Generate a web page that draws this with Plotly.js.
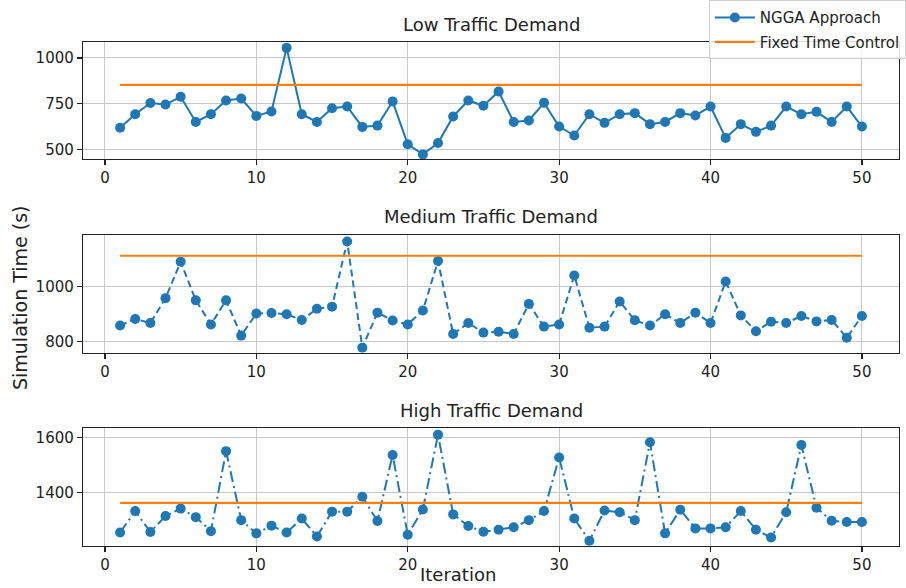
<!DOCTYPE html>
<html>
<head>
<meta charset="utf-8">
<script src="https://cdn.plot.ly/plotly-3.0.1.min.js"></script>
<style>html,body{margin:0;padding:0;background:#fff;}#chart{width:906px;height:588px;}</style>
</head>
<body>
<div id="chart"></div>
<script>
const iterations = Array.from({length: 50}, (_, i) => i + 1);

const lowNGGA = [619, 693, 754, 746, 788, 651, 693, 768, 779, 684,
                 708, 1055, 693, 651, 726, 735, 624, 631, 763, 529,
                 474, 536, 681, 768, 739, 817, 651, 659, 755, 626,
                 577, 693, 646, 693, 699, 639, 651, 699, 686, 735,
                 564, 639, 597, 631, 735, 693, 706, 651, 735, 626];

const mediumNGGA = [858, 882, 867, 958, 1091, 950, 862, 950, 821, 902,
                    904, 899, 878, 919, 927, 1165, 777, 905, 876, 862,
                    913, 1094, 827, 867, 832, 835, 827, 937, 854, 862,
                    1041, 850, 854, 946, 877, 858, 899, 867, 905, 867,
                    1019, 895, 837, 872, 867, 893, 873, 878, 813, 893];

const highNGGA = [1254, 1332, 1256, 1314, 1341, 1310, 1259, 1550, 1299, 1251,
                  1279, 1254, 1305, 1240, 1330, 1330, 1384, 1296, 1536, 1246,
                  1338, 1610, 1320, 1278, 1257, 1264, 1273, 1299, 1332, 1527,
                  1305, 1224, 1334, 1328, 1299, 1582, 1251, 1337, 1269, 1269,
                  1273, 1332, 1264, 1236, 1328, 1572, 1344, 1297, 1292, 1292];

const fixedLow = 853;
const fixedMedium = 1113;
const fixedHigh = 1362;

const panelTitles = ["Low Traffic Demand", "Medium Traffic Demand", "High Traffic Demand"];
const seriesNames = ["NGGA Approach", "Fixed Time Control"];
const xLabel = "Iteration";
const yLabel = "Simulation Time (s)";

const blue = '#1f77b4', orange = '#ff7f0e';
const FONT = 'DejaVu Sans, sans-serif';

function ngga(y, axis, dash, showlegend) {
  return {x: iterations, y: y, xaxis: 'x' + axis, yaxis: 'y' + axis,
    type: 'scatter', mode: 'lines+markers', name: seriesNames[0],
    legendgroup: 'ngga', showlegend: showlegend,
    line: {color: blue, width: 2, dash: dash},
    marker: {color: blue, size: 10}};
}
function fixed(v, axis, showlegend) {
  return {x: iterations, y: iterations.map(() => v), xaxis: 'x' + axis, yaxis: 'y' + axis,
    type: 'scatter', mode: 'lines', name: seriesNames[1],
    legendgroup: 'fixed', showlegend: showlegend,
    line: {color: orange, width: 2.2}};
}

const traces = [
  ngga(lowNGGA, '', 'solid', true), fixed(fixedLow, '', true),
  ngga(mediumNGGA, '2', '7px,4px', false), fixed(fixedMedium, '2', false),
  ngga(highNGGA, '3', '11px,4px,2px,4px', false), fixed(fixedHigh, '3', false)
];

function xax(anchor) {
  return {anchor: anchor, range: [-1.45, 52.45], tickvals: [0, 10, 20, 30, 40, 50],
    showgrid: true, gridcolor: '#c8c8c8', gridwidth: 1, zeroline: false,
    showline: true, linecolor: '#222', linewidth: 1.2, mirror: true,
    ticks: 'outside', ticklen: 5, tickcolor: '#222', tickwidth: 1.2,
    tickfont: {family: FONT, size: 15, color: '#222'}};
}
function yax(anchor, domain, range, dtick) {
  return {anchor: anchor, domain: domain, range: range, dtick: dtick,
    showgrid: true, gridcolor: '#c8c8c8', gridwidth: 1, zeroline: false,
    showline: true, linecolor: '#222', linewidth: 1.2, mirror: true,
    ticks: 'outside', ticklen: 5, tickcolor: '#222', tickwidth: 1.2,
    tickfont: {family: FONT, size: 15, color: '#222'}};
}

const layout = {
  width: 906, height: 588,
  margin: {l: 83, r: 7, t: 42, b: 42, autoexpand: false},
  paper_bgcolor: '#fff', plot_bgcolor: '#fff',
  font: {family: FONT, color: '#222'},
  showlegend: true,
  legend: {x: 0.767, y: 1.083, xanchor: 'left', yanchor: 'top', itemwidth: 40,
    bgcolor: 'rgba(255,255,255,0.85)', bordercolor: '#d0d0d0', borderwidth: 1,
    font: {family: FONT, size: 15, color: '#222'}, tracegroupgap: 2},
  xaxis: xax('y'),
  yaxis: yax('x', [0.7679, 1.0], [449, 1087], 250),
  xaxis2: xax('y2'),
  yaxis2: yax('x2', [0.3835, 0.6171], [758.5, 1189], 200),
  xaxis3: xax('y3'),
  yaxis3: yax('x3', [0.0, 0.2335], [1205, 1633], 200),
  annotations: [
    {text: panelTitles[0], xref: 'paper', yref: 'paper', x: 0.5, y: 1.0357, xanchor: 'center', yanchor: 'middle', showarrow: false, font: {family: FONT, size: 18, color: '#222'}},
    {text: panelTitles[1], xref: 'paper', yref: 'paper', x: 0.5, y: 0.6528, xanchor: 'center', yanchor: 'middle', showarrow: false, font: {family: FONT, size: 18, color: '#222'}},
    {text: panelTitles[2], xref: 'paper', yref: 'paper', x: 0.5, y: 0.2679, xanchor: 'center', yanchor: 'middle', showarrow: false, font: {family: FONT, size: 18, color: '#222'}},
    {text: yLabel, xref: 'paper', yref: 'paper', x: -0.0772, y: 0.492, xanchor: 'center', yanchor: 'middle', textangle: -90, showarrow: false, font: {family: FONT, size: 19, color: '#222'}},
    {text: xLabel, xref: 'paper', yref: 'paper', x: 0.459, y: -0.0575, xanchor: 'center', yanchor: 'middle', showarrow: false, font: {family: FONT, size: 18, color: '#222'}}
  ]
};

Plotly.newPlot('chart', traces, layout, {displayModeBar: false, staticPlot: true});
</script>
</body>
</html>
